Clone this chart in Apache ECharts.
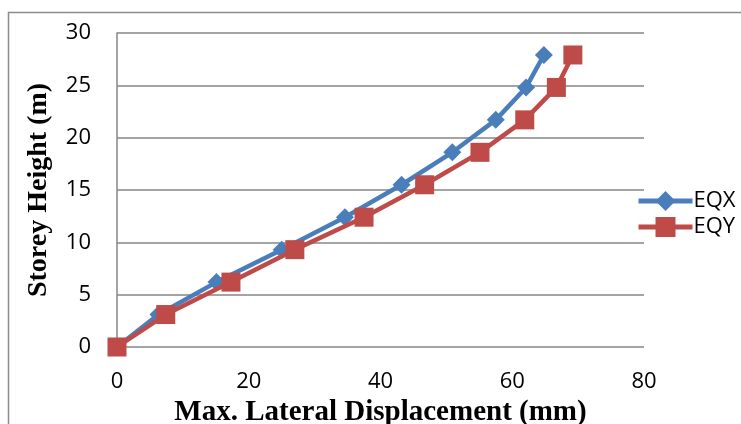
<!DOCTYPE html>
<html>
<head>
<meta charset="utf-8">
<script src="https://cdn.jsdelivr.net/npm/echarts@6/dist/echarts.min.js"></script>
<style>
  html, body { margin: 0; padding: 0; background: #fff; }
  #chart { width: 741px; height: 424px; }
</style>
</head>
<body>
<div id="chart"></div>
<script>
  // storey heights (m) and max lateral displacement (mm)
  var heights = [0, 3.1, 6.2, 9.3, 12.4, 15.5, 18.6, 21.7, 24.8, 27.9];
  var eqx = [0, 6.3, 15.1, 25.0, 34.6, 43.2, 50.9, 57.5, 62.1, 64.8];
  var eqy = [0, 7.4, 17.3, 27.0, 37.5, 46.7, 55.1, 61.9, 66.7, 69.2];
  var seriesNames = ['EQX', 'EQY'];

  function pairs(xs) {
    return xs.map(function (x, i) { return [x, heights[i]]; });
  }

  var chart = echarts.init(document.getElementById('chart'));
  chart.setOption({
    animation: false,
    color: ['#4A7EBB', '#BE4B48'],
    graphic: [{
      type: 'rect',
      shape: { x: 8.5, y: 12.5, width: 800, height: 500 },
      style: { fill: 'none', stroke: '#8c8c8c', lineWidth: 1.5 }
    }],
    grid: { left: 117, top: 33, right: 97, bottom: 77, outerBoundsMode: 'none' },
    legend: {
      orient: 'vertical',
      left: 631,
      top: 185,
      itemWidth: 54,
      itemHeight: 25,
      itemGap: 4,
      lineStyle: { width: 5 },
      textStyle: { fontFamily: 'Open Sans', fontSize: 22, color: '#000', padding: [0, 0, 0, -4] },
      data: seriesNames
    },
    xAxis: {
      type: 'value',
      min: 0, max: 80, interval: 20,
      name: 'Max. Lateral Displacement (mm)',
      nameLocation: 'middle',
      nameGap: 45,
      nameTextStyle: { fontFamily: 'Liberation Serif', fontWeight: 'bold', fontSize: 29, color: '#000' },
      axisLine: { show: false },
      axisTick: { show: false },
      splitLine: { show: false },
      axisLabel: { fontFamily: 'Open Sans', fontSize: 22, color: '#000', margin: 24 }
    },
    yAxis: {
      type: 'value',
      min: 0, max: 30, interval: 5,
      name: 'Storey Height (m)',
      nameLocation: 'middle',
      nameGap: 64,
      nameRotate: 90,
      nameTextStyle: { fontFamily: 'Liberation Serif', fontWeight: 'bold', fontSize: 28, color: '#000' },
      axisLine: { show: true, lineStyle: { color: '#868686', width: 1.5 } },
      axisTick: { show: false },
      splitLine: { lineStyle: { color: '#868686', width: 1.5 } },
      axisLabel: { fontFamily: 'Open Sans', fontSize: 22, color: '#000', margin: 26 }
    },
    series: [{
      name: seriesNames[0],
      type: 'line',
      data: pairs(eqx),
      symbol: 'diamond',
      symbolSize: 18,
      lineStyle: { width: 4.5 },
      z: 3
    }, {
      name: seriesNames[1],
      type: 'line',
      data: pairs(eqy),
      symbol: 'rect',
      symbolSize: 19,
      lineStyle: { width: 4.5 },
      z: 4
    }]
  });
</script>
</body>
</html>
